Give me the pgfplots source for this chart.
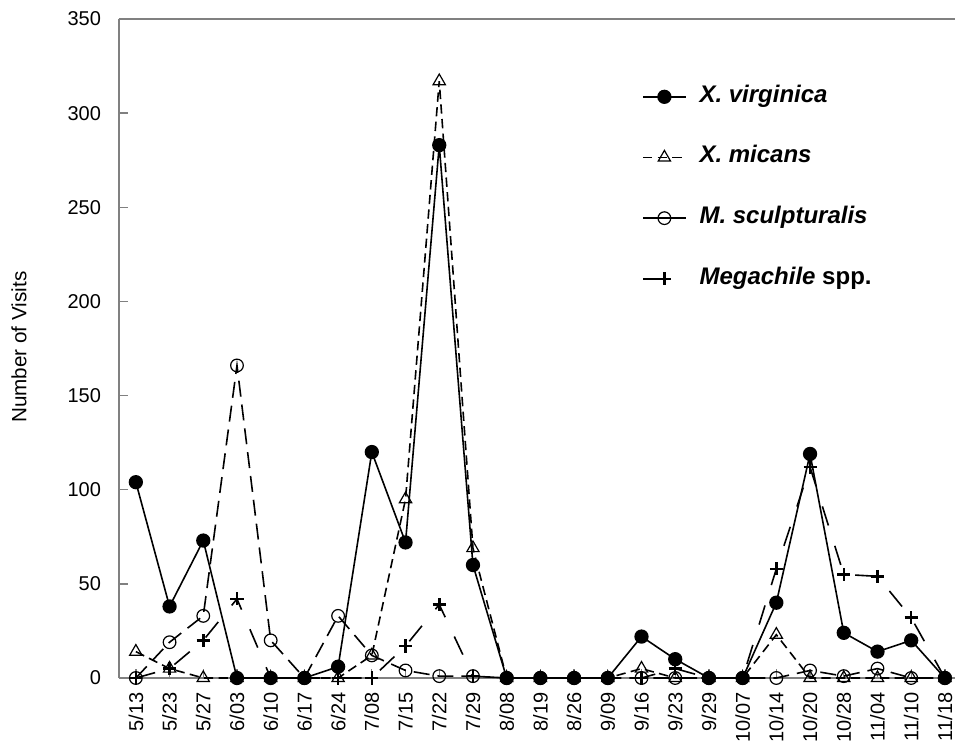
\documentclass[border=0pt]{standalone}
\usepackage{fontspec}
\setmainfont{Liberation Sans}
\usepackage{pgfplots}
\pgfplotsset{compat=1.18}

\begin{document}
\begin{tikzpicture}
\begin{axis}[
    name=ax,
    scale only axis,
    width=627pt, height=494.25pt,
    xmin=-0.5, xmax=24.3,
    ymin=0, ymax=350,
    clip=false,
    axis x line*=box,
    axis y line*=left,
    tick pos=left,
    axis line style={gray, line width=1pt},
    tick style={gray, line width=1pt},
    major tick length=7pt,
    ytick={0,50,...,350},
    xtick={0,...,24},
    xticklabels={5/13,5/23,5/27,6/03,6/10,6/17,6/24,7/08,7/15,7/22,7/29,8/08,8/19,8/26,9/09,9/16,9/23,9/29,10/07,10/14,10/20,10/28,11/04,11/10,11/18},
    /pgf/number format/assume math mode=true,
    tick label style={font=\fontsize{15}{18}\selectfont},
    xticklabel style={rotate=90, anchor=east},
    xticklabel shift=7.5pt,
    yticklabel shift=10pt,
    ylabel={Number of Visits},
    every axis y label/.style={at={(axis description cs:-0.1196,0.502)}, rotate=90, anchor=center,
        font=\fontsize{15.5}{18}\selectfont},
    legend cell align=left,
    reverse legend,
    legend style={draw=none, fill=none, at={(axis description cs:0.6256,0.8985)}, anchor=north west,
        inner sep=0pt, row sep=29.5pt, column sep=9.75pt,
        font=\fontsize{18}{20}\selectfont,
        nodes={inner sep=0pt, text height=12pt, text depth=4pt}},
    legend image code/.code={\draw[solid,mark repeat=2,mark phase=2] plot coordinates {(0pt,0pt) (16pt,0pt) (32pt,0pt)};},
]
% Megachile spp.
\addplot[black, line width=1.2pt, dash pattern=on 15pt off 16pt, mark=+, mark size=4.9pt,
    mark options={solid, line width=1.9pt},
    legend image code/.code={\draw[solid] plot[mark indices={2}] coordinates {(0pt,0pt) (16pt,0pt)}; \path (32pt,0pt);}]
table {
0 0
1 5
2 20
3 42
4 0
5 0
6 0
7 0
8 17
9 39
10 1
11 0
12 0
13 0
14 0
15 0
16 5
17 0
18 0
19 58
20 112
21 55
22 54
23 32
24 0
};
\addlegendentry{\textbf{\textit{Megachile} spp.}}
% M. sculpturalis
\addplot[black, line width=1.2pt, dash pattern=on 12pt off 6pt, mark=o, mark size=4.75pt,
    mark options={solid, line width=0.9pt}]
table {
0 0
1 19
2 33
3 166
4 20
5 0
6 33
7 12
8 4
9 1
10 1
11 0
12 0
13 0
14 0
15 0
16 0
17 0
18 0
19 0
20 4
21 1
22 5
23 0
24 0
};
\addlegendentry{\textbf{\textit{M. sculpturalis}}}
% X. micans
\addplot[black, line width=1.2pt, dash pattern=on 7pt off 4pt, mark=triangle, mark size=5.3pt,
    mark options={solid, line width=0.9pt},
    legend image code/.code={\draw[dash pattern=on 7pt off 4pt, mark repeat=2,mark phase=2] plot coordinates {(0pt,0pt) (16pt,0pt) (32pt,0pt)};}]
table {
0 14
1 5
2 0
3 0
4 0
5 0
6 0
7 12
8 95
9 317
10 69
11 0
12 0
13 0
14 0
15 5
16 0
17 0
18 0
19 23
20 0
21 0
22 0
23 0
24 0
};
\addlegendentry{\textbf{\textit{X. micans}}}
% X. virginica
\addplot[black, line width=1.2pt, mark=*, mark size=4.75pt]
table {
0 104
1 38
2 73
3 0
4 0
5 0
6 6
7 120
8 72
9 283
10 60
11 0
12 0
13 0
14 0
15 22
16 10
17 0
18 0
19 40
20 119
21 24
22 14
23 20
24 0
};
\addlegendentry{\textbf{\textit{X. virginica}}}
\end{axis}
\pgfresetboundingbox
\path[use as bounding box] ([shift={(-89.25pt,-48pt)}]ax.south west) rectangle ([yshift=14.25pt]ax.north east);
\end{tikzpicture}
\end{document}
